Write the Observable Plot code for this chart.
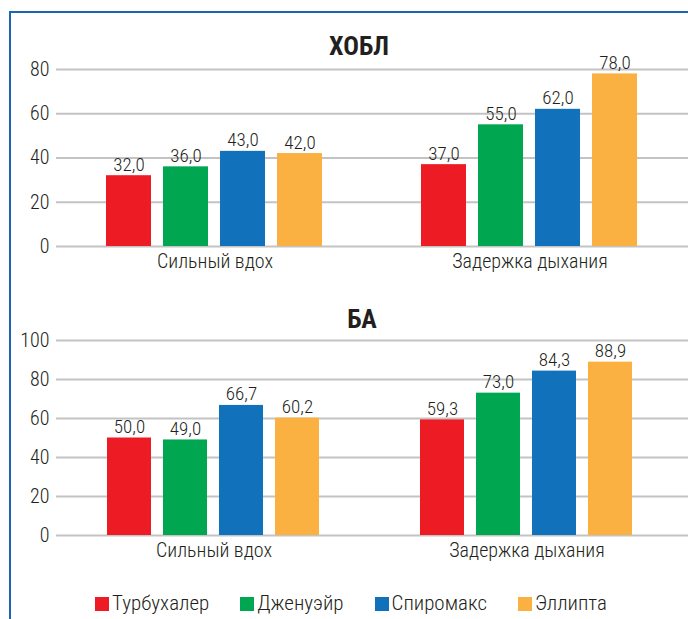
<!DOCTYPE html>
<html>
<head>
<meta charset="utf-8">
<script src="https://cdn.jsdelivr.net/npm/d3@7"></script>
<script src="https://cdn.jsdelivr.net/npm/@observablehq/plot@0.6"></script>
<style>
  html, body { margin: 0; padding: 0; background: #fff; }
  #root { position: relative; width: 688px; height: 619px; overflow: hidden; background: #fff;
    font-family: "Roboto Condensed", "Liberation Sans Narrow", "Arial Narrow", "DejaVu Sans Condensed", sans-serif; font-stretch: condensed; color: #231f20; }
  .frame { position: absolute; left: 9px; top: 11px; width: 800px; height: 800px;
    border-left: 2px solid #1a66b3; border-top: 2px solid #1a66b3; }
  .layer { position: absolute; left: 0; }
  .layer svg { position: absolute; left: 0; top: 0; overflow: visible; }
  .title { position: absolute; width: 200px; text-align: center; font-weight: bold; font-size: 26px; line-height: 1; }
  .legend { position: absolute; left: 95px; top: 593px; display: flex; gap: 31px; font-size: 21px; font-weight: 300; line-height: 1; }
  .legend .item { display: flex; align-items: center; }
  .legend .sw { width: 14px; height: 14px; margin-right: 3px; display: inline-block; }
</style>
</head>
<body>
<div id="root">
  <div class="frame"></div>
</div>
<script>
const groups = ["Сильный вдох", "Задержка дыхания"];
const series = ["Турбухалер", "Дженуэйр", "Спиромакс", "Эллипта"];
const colors = ["#ed1c24", "#00a650", "#1271bb", "#fbb042"];

// ХОБЛ values, by group then series
const copdStrongInhale = [32.0, 36.0, 43.0, 42.0];
const copdBreathHold   = [37.0, 55.0, 62.0, 78.0];
const copdTicks = [0, 20, 40, 60, 80];

// БА values
const asthmaStrongInhale = [50.0, 49.0, 66.7, 60.2];
const asthmaBreathHold   = [59.3, 73.0, 84.3, 88.9];
const asthmaTicks = [0, 20, 40, 60, 80, 100];

const FONT = '"Roboto Condensed", "Liberation Sans Narrow", "Arial Narrow", "DejaVu Sans Condensed", sans-serif';
const fmt = v => v.toFixed(1).replace(".", ",");

function toRows(a, b) {
  const rows = [];
  [a, b].forEach((vals, gi) => vals.forEach((v, si) => rows.push({group: groups[gi], series: series[si], value: v})));
  return rows;
}

function chart({rows, ticks, top, height, marginTop, marginBottom, marginRightBars}) {
  const layer = document.createElement("div");
  layer.className = "layer";
  layer.style.top = top + "px";
  layer.style.width = "688px";
  layer.style.height = height + "px";
  const maxY = ticks[ticks.length - 1];
  const style = {fontFamily: FONT, fontSize: "20px", fontWeight: 300, color: "#231f20", background: "transparent", fontStretch: "condensed"};

  const grid = Plot.plot({
    width: 688, height, marginTop, marginBottom, marginLeft: 56, marginRight: 0,
    style,
    y: {domain: [0, maxY], ticks, tickSize: 0, tickPadding: 7, label: null},
    marks: [Plot.ruleY(ticks, {stroke: "#c3c3c3", strokeWidth: 2})]
  });

  const bars = Plot.plot({
    width: 688, height, marginTop, marginBottom, marginLeft: 56, marginRight: marginRightBars,
    style,
    facet: {data: rows, x: "group", label: null},
    fx: {domain: groups, paddingInner: 0.312, paddingOuter: 0.159, tickSize: 0, tickPadding: 7, label: null},
    x: {domain: series, paddingInner: 0.21, paddingOuter: 0, axis: null},
    y: {domain: [0, maxY], axis: null},
    color: {domain: series, range: colors},
    marks: [
      Plot.barY(rows, {x: "series", y: "value", fill: "series"}),
      Plot.text(rows, {x: "series", y: "value", text: d => fmt(d.value), lineAnchor: "bottom", dy: -5, fontSize: 19, fill: "#231f20"})
    ]
  });

  layer.appendChild(grid);
  layer.appendChild(bars);
  return layer;
}

const root = document.getElementById("root");

root.appendChild(chart({
  rows: toRows(copdStrongInhale, copdBreathHold), ticks: copdTicks,
  top: 0, height: 280, marginTop: 69, marginBottom: 34, marginRightBars: 0
}));

root.appendChild(chart({
  rows: toRows(asthmaStrongInhale, asthmaBreathHold), ticks: asthmaTicks,
  top: 280, height: 300, marginTop: 60, marginBottom: 45, marginRightBars: 4
}));

function addTitle(text, x, y) {
  const t = document.createElement("div");
  t.className = "title";
  t.textContent = text;
  t.style.left = (x - 100) + "px";
  t.style.top = y + "px";
  root.appendChild(t);
}
addTitle("ХОБЛ", 359, 33);
addTitle("БА", 362, 306);

const legend = document.createElement("div");
legend.className = "legend";
series.forEach((s, i) => {
  const item = document.createElement("div");
  item.className = "item";
  const sw = document.createElement("span");
  sw.className = "sw";
  sw.style.background = colors[i];
  const label = document.createElement("span");
  label.textContent = s;
  item.appendChild(sw);
  item.appendChild(label);
  legend.appendChild(item);
});
root.appendChild(legend);
</script>
</body>
</html>
